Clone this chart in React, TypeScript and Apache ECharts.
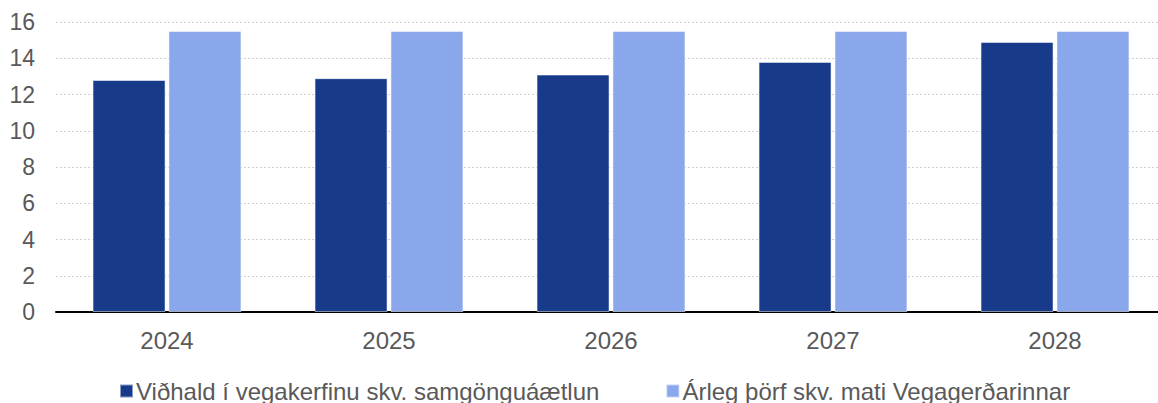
import React, { useEffect, useRef } from "react";
import * as echarts from "echarts";

const categories = ["2024", "2025", "2026", "2027", "2028"];
const seriesNames = [
  "Viðhald í vegakerfinu skv. samgönguáætlun",
  "Árleg þörf skv. mati Vegagerðarinnar",
];
const maintenance = [12.8, 12.9, 13.1, 13.8, 14.9];
const annualNeed = [15.5, 15.5, 15.5, 15.5, 15.5];
const colors = ["#173B8A", "#8AA7EC"];

export default function App() {
  const ref = useRef<HTMLDivElement>(null);
  useEffect(() => {
    if (!ref.current) return;
    const chart = echarts.init(ref.current, undefined, { renderer: "svg" });
    const font = "'Liberation Sans', Arial, sans-serif";
    chart.setOption({
      animation: false,
      backgroundColor: "#ffffff",
      textStyle: { fontFamily: font },
      grid: {
        left: 56,
        width: 1110,
        top: 22,
        bottom: 91,
        containLabel: false,
        outerBoundsMode: "none",
      },
      legend: {
        data: seriesNames,
        left: 119,
        top: 379,
        padding: 0,
        icon: "rect",
        itemWidth: 13,
        itemHeight: 13,
        itemGap: 66,
        textStyle: { fontSize: 24, color: "#595959", fontFamily: font, padding: [0, 0, 0, -2] },
      },
      xAxis: {
        type: "category",
        data: categories,
        axisLine: { lineStyle: { color: "#000000", width: 2 } },
        axisTick: { show: false },
        axisLabel: { fontSize: 24, color: "#595959", margin: 16, fontFamily: font },
      },
      yAxis: {
        type: "value",
        min: 0,
        max: 16,
        interval: 2,
        axisLine: { show: false },
        axisTick: { show: false },
        axisLabel: { fontSize: 23, color: "#595959", margin: 21, fontFamily: font },
        splitLine: { lineStyle: { color: "#d0d0d0", type: [2, 2], width: 1 } },
      },
      series: [
        {
          name: seriesNames[0],
          type: "bar",
          data: maintenance,
          barWidth: 73,
          barGap: "4%",
          itemStyle: { color: colors[0], borderColor: "rgba(255,255,255,0.5)", borderWidth: 1 },
        },
        {
          name: seriesNames[1],
          type: "bar",
          data: annualNeed,
          barWidth: 73,
          barGap: "4%",
          itemStyle: { color: colors[1], borderColor: "rgba(255,255,255,0.5)", borderWidth: 1 },
        },
      ],
    });
    return () => chart.dispose();
  }, []);
  return (
    <div
      ref={ref}
      style={{ position: "fixed", left: 0, top: 0, width: 1158, height: 403, background: "#fff" }}
    />
  );
}
